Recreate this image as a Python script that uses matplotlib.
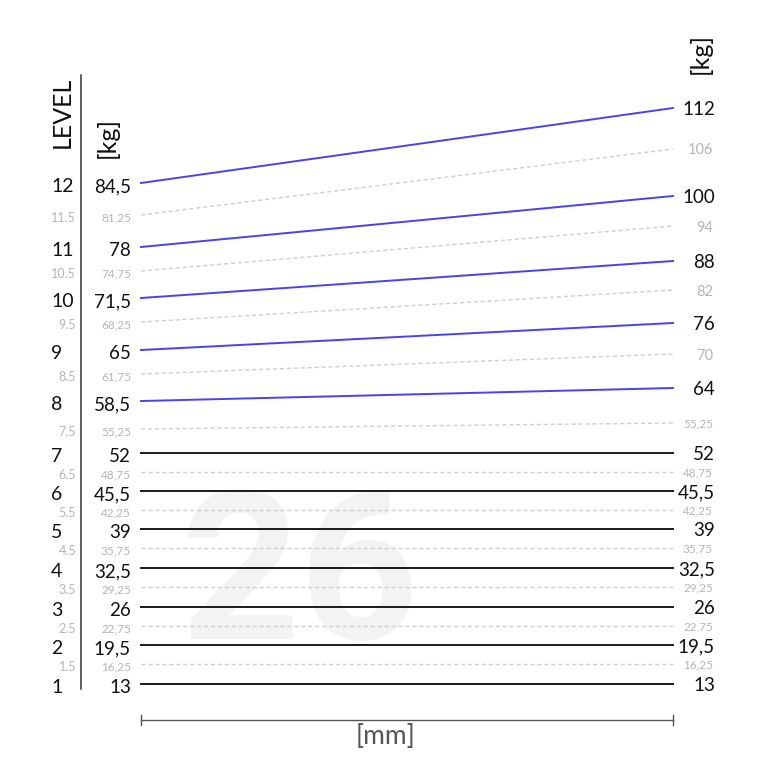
import matplotlib.pyplot as plt

plt.rcParams['font.family'] = ['Lato', 'DejaVu Sans']

# levels and loads (kg)
levels_main = ['1', '2', '3', '4', '5', '6', '7', '8', '9', '10', '11', '12']
levels_half = ['1.5', '2.5', '3.5', '4.5', '5.5', '6.5', '7.5', '8.5', '9.5', '10.5', '11.5']

kg_left_main = ['13', '19,5', '26', '32,5', '39', '45,5', '52', '58,5', '65', '71,5', '78', '84,5']
kg_right_main = ['13', '19,5', '26', '32,5', '39', '45,5', '52', '64', '76', '88', '100', '112']
kg_left_half = ['16,25', '22,75', '29,25', '35,75', '42,25', '48,75', '55,25', '61,75', '68,25', '74,75', '81,25']
kg_right_half = ['16,25', '22,75', '29,25', '35,75', '42,25', '48,75', '55,25', '70', '82', '94', '106']

# vertical position of each line at its left and right end (chart units, top = 0)
y_left_main = [684, 645, 607, 568, 529, 491, 453, 401, 350, 298, 247, 183]
y_right_main = [684, 645, 607, 568, 529, 491, 453, 388, 323, 261, 196, 108]
y_left_half = [664, 626, 587, 548, 510, 472, 429, 374, 322, 271, 215]
y_right_half = [664, 626, 587, 548, 510, 472, 423, 354, 290, 226, 149]

size = 26  # model size shown as watermark

x0, x1 = 141, 673
blue = '#4b42e8'
grey_line = '#cfcfcf'
grey_text = '#b5b5b5'

fig = plt.figure(figsize=(7.68, 7.68), dpi=100)
ax = fig.add_axes([0, 0, 1, 1])
ax.set_xlim(0, 768)
ax.set_ylim(768, 0)
ax.axis('off')

# watermark
ax.text(300, 582, str(size), fontsize=150, fontweight='bold', color='#f3f3f3',
        family='Roboto', ha='center', va='center', zorder=0)

# dashed half-level lines
for yl, yr in zip(y_left_half, y_right_half):
    ax.plot([x0, x1], [yl, yr], color=grey_line, lw=1, ls=(0, (3, 2)), zorder=1)

# full-level lines: black when flat, blue when rising
for yl, yr in zip(y_left_main, y_right_main):
    c = '#1a1a1a' if yl == yr else blue
    ax.plot([x0, x1], [yl, yr], color=c, lw=1.4, zorder=2)

# left labels
for lab, kg, y in zip(levels_main, kg_left_main, y_left_main):
    ax.text(51, y + 2, lab, fontsize=14, ha='left', va='center_baseline', color='#111111')
    ax.text(131, y + 2, kg, fontsize=13.5, ha='right', va='center_baseline', color='#111111')
for lab, kg, y in zip(levels_half, kg_left_half, y_left_half):
    ax.text(76, y + 2, lab, fontsize=9, ha='right', va='center_baseline', color=grey_text)
    ax.text(131, y + 2, kg, fontsize=8.5, ha='right', va='center_baseline', color=grey_text)

# right labels
for kg, y in zip(kg_right_main, y_right_main):
    ax.text(715, y, kg, fontsize=13.5, ha='right', va='center_baseline', color='#111111')
for kg, y in zip(kg_right_half, y_right_half):
    fs = 8.5 if ',' in kg else 10.5
    ax.text(713, y, kg, fontsize=fs, ha='right', va='center_baseline', color=grey_text)

# level axis
ax.plot([81, 81], [75, 689], color='#333333', lw=1.1)
ax.text(62, 112, 'LEVEL', fontsize=18, rotation=90, ha='center', va='center', color='#111111')
ax.text(107, 137, '[kg]', fontsize=18, rotation=90, ha='center', va='center', color='#111111')
ax.text(700, 53, '[kg]', fontsize=18, rotation=90, ha='center', va='center', color='#111111')

# width scale
ax.plot([x0, x1], [720, 720], color='#555555', lw=1)
ax.plot([x0, x0], [715, 725], color='#555555', lw=1)
ax.plot([x1, x1], [715, 725], color='#555555', lw=1)
ax.text(386, 736, '[mm]', fontsize=19, ha='center', va='center', color='#555555')

plt.savefig('out.png', dpi=100)
